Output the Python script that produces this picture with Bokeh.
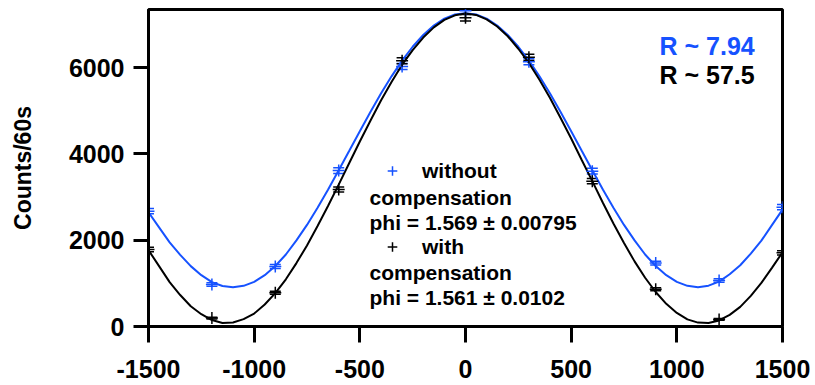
from bokeh.plotting import figure
from bokeh.models import (Range1d, FixedTicker, Whisker, ColumnDataSource, Label,
                          Legend, LegendItem, TeeHead)
from bokeh.embed import file_html
from bokeh.resources import INLINE

# ---- data ----
positions = [-1500, -1200, -900, -600, -300, 0, 300, 600, 900, 1200, 1500]
without_counts = [2674, 974, 1391, 3615, 6030, 7320, 6140, 3602, 1470, 1067, 2767]
without_err = [60, 40, 45, 65, 70, 75, 70, 65, 45, 40, 60]
with_counts = [1786, 195, 781, 3177, 6160, 7160, 6240, 3370, 865, 165, 1709]
with_err = [50, 20, 35, 60, 70, 75, 70, 60, 35, 20, 50]

fit_x = [-1500, -1450, -1400, -1350, -1300, -1250, -1200, -1150, -1100, -1050,
         -1000, -950, -900, -850, -800, -750, -700, -650, -600, -550,
         -500, -450, -400, -350, -300, -250, -200, -150, -100, -50,
         0, 50, 100, 150, 200, 250, 300, 350, 400, 450,
         500, 550, 600, 650, 700, 750, 800, 850, 900, 950,
         1000, 1050, 1100, 1150, 1200, 1250, 1300, 1350, 1400, 1450, 1500]
without_fit = [2650, 2300, 1950, 1660, 1400, 1190, 1030, 940, 912, 943,
               1036, 1191, 1402, 1669, 1996, 2355, 2753, 3179, 3622, 4075,
               4529, 4973, 5400, 5800, 6164, 6486, 6759, 6977, 7137, 7234,
               7266, 7234, 7137, 6977, 6759, 6486, 6164, 5800, 5400, 4973,
               4529, 4075, 3622, 3179, 2753, 2355, 1996, 1669, 1402, 1191,
               1036, 943, 912, 947, 1042, 1212, 1420, 1690, 1990, 2350, 2710]
with_fit = [1770, 1400, 1030, 730, 470, 285, 150, 82, 92, 170,
            300, 510, 775, 1095, 1470, 1880, 2330, 2800, 3290, 3790,
            4290, 4770, 5240, 5670, 6070, 6410, 6700, 6935, 7110, 7215,
            7255, 7225, 7120, 6955, 6730, 6440, 6110, 5720, 5300, 4835,
            4360, 3860, 3370, 2870, 2390, 1935, 1510, 1130, 800, 525,
            315, 165, 90, 80, 140, 270, 455, 710, 1010, 1360, 1720]

x_ticks = [-1500, -1000, -500, 0, 500, 1000, 1500]
x_tick_labels = ["-1500", "-1000", "-500", "0", "500", "1000", "1500"]
y_ticks = [0, 2000, 4000, 6000]

BLUE = "#1652ff"
BLACK = "#000000"
FONT = "Liberation Sans"

p = figure(width=815, height=385, x_range=Range1d(-1500, 1500), y_range=Range1d(0, 7350),
           output_backend="svg", toolbar_location=None,
           min_border_left=148, min_border_right=33, min_border_top=9, min_border_bottom=59)

p.xgrid.visible = False
p.ygrid.visible = False
p.outline_line_color = "black"
p.outline_line_width = 3
p.outline_line_alpha = 1.0
p.background_fill_color = "white"
p.border_fill_color = "white"

for ax, ticks, tout in ((p.xaxis, x_ticks, 16), (p.yaxis, y_ticks, 15)):
    ax.ticker = FixedTicker(ticks=ticks, minor_ticks=[])
    ax.axis_line_width = 3
    ax.axis_line_color = "black"
    ax.major_tick_line_width = 3
    ax.major_tick_line_color = "black"
    ax.major_tick_out = tout
    ax.major_tick_in = 0
    ax.minor_tick_out = 0
    ax.minor_tick_in = 0
    ax.major_label_text_font = FONT
    ax.major_label_text_font_style = "bold"
    ax.major_label_text_font_size = "25px"
    ax.major_label_text_color = "black"

p.xaxis.major_label_overrides = {t: s for t, s in zip(x_ticks, x_tick_labels)}
p.xaxis.major_label_standoff = 17
p.yaxis.major_label_standoff = 9
p.yaxis.axis_label = "Counts/60s"
p.yaxis.axis_label_text_font = FONT
p.yaxis.axis_label_text_font_style = "bold"
p.yaxis.axis_label_text_font_size = "23px"
p.yaxis.axis_label_text_color = "black"
p.yaxis.axis_label_standoff = 30

# fit curves
p.line(fit_x, without_fit, line_color=BLUE, line_width=2)
p.line(fit_x, with_fit, line_color=BLACK, line_width=2)

renderers = []
for counts, err, col in ((without_counts, without_err, BLUE), (with_counts, with_err, BLACK)):
    src = ColumnDataSource(dict(x=positions, y=counts,
                                upper=[c + e for c, e in zip(counts, err)],
                                lower=[c - e for c, e in zip(counts, err)]))
    w = Whisker(source=src, base="x", upper="upper", lower="lower",
                line_color=col, line_width=1.5,
                upper_head=TeeHead(size=11, line_color=col, line_width=1.5),
                lower_head=TeeHead(size=11, line_color=col, line_width=1.5))
    p.add_layout(w)
    r = p.scatter("x", "y", source=src, marker="cross", size=12, line_color=col, line_width=1.5)
    renderers.append(r)

legend = Legend(items=[LegendItem(label="without", renderers=[renderers[0]]),
                       LegendItem(label="with", renderers=[renderers[1]])],
                location=(232, 67), glyph_width=24, glyph_height=25, label_height=25,
                label_standoff=18, spacing=51, padding=0, margin=0,
                border_line_alpha=0, background_fill_alpha=0,
                label_text_font=FONT, label_text_font_style="bold",
                label_text_font_size="21px", label_text_color="black")
p.add_layout(legend)

for txt, yy in (("compensation", 129), ("phi = 1.569 \u00b1 0.00795", 104),
                ("compensation", 54), ("phi = 1.561 \u00b1 0.0102", 29)):
    p.add_layout(Label(x=221, y=yy, x_units="screen", y_units="screen", text=txt,
                       text_font=FONT, text_font_style="bold", text_font_size="21px",
                       text_baseline="middle", text_align="left", text_color="black"))

p.add_layout(Label(x=511, y=281, x_units="screen", y_units="screen", text="R ~ 7.94",
                   text_font=FONT, text_font_style="bold", text_font_size="25px",
                   text_color=BLUE, text_baseline="middle"))
p.add_layout(Label(x=511, y=252, x_units="screen", y_units="screen", text="R ~ 57.5",
                   text_font=FONT, text_font_style="bold", text_font_size="25px",
                   text_color="black", text_baseline="middle"))

open("out.html", "w").write(file_html(p, INLINE))
